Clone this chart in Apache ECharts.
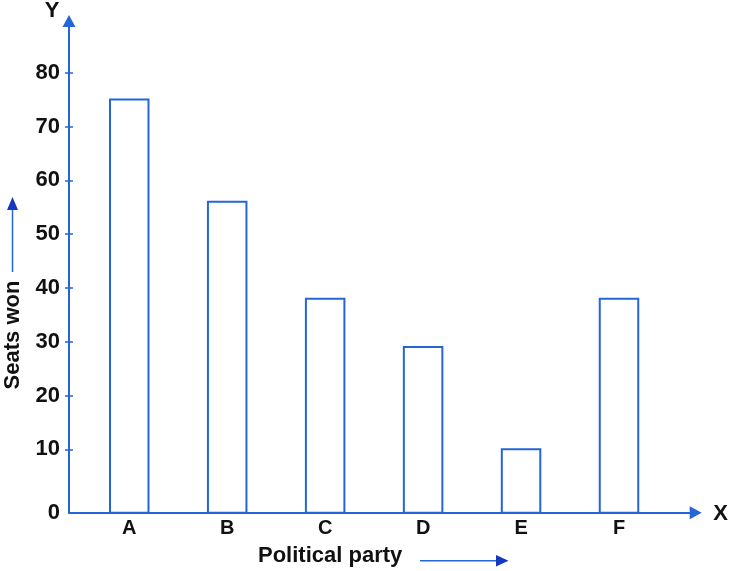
<!DOCTYPE html>
<html>
<head>
<meta charset="utf-8">
<script src="https://cdn.jsdelivr.net/npm/echarts@6/dist/echarts.min.js"></script>
<style>
html,body{margin:0;padding:0;background:#fff;}
#chart{width:732px;height:571px;}
</style>
</head>
<body>
<div id="chart"></div>
<script>
// ---- data ----
const parties = ['A', 'B', 'C', 'D', 'E', 'F'];
const seatsWon = [75, 56, 38, 29, 10, 38];
const yTickValues = [10, 20, 30, 40, 50, 60, 70, 80];
const yTickLabels = ['0', '10', '20', '30', '40', '50', '60', '70', '80'];

// ---- layout / style ----
const FONT = '"Liberation Sans", Arial, Helvetica, sans-serif';
const LINE = '#2466d6';
const ARROW = '#1538bf';
const TEXT = '#111';
const Y_MIN = -1.78;   // the drawn origin sits a little below value 0 in the original
const Y_MAX = 89.6;
const X_MIN = -0.615;
const X_MAX = 5.783;

const chart = echarts.init(document.getElementById('chart'), null, {renderer: 'canvas'});

const option = {
  backgroundColor: '#fff',
  animation: false,
  grid: {left: 69, top: 21, right: 36.3, bottom: 58.3, containLabel: false},
  xAxis: {
    type: 'value',
    min: X_MIN,
    max: X_MAX,
    splitLine: {show: false},
    axisLine: {show: true, onZero: false, lineStyle: {color: LINE, width: 2}, symbol: ['none', 'triangle'], symbolSize: [13, 12]},
    axisTick: {show: false},
    axisLabel: {
      customValues: parties.map((p, i) => i),
      formatter: v => parties[Math.round(v)],
      color: TEXT, fontFamily: FONT, fontSize: 20, fontWeight: 'bold', margin: 6
    }
  },
  yAxis: [{
    type: 'value',
    min: Y_MIN,
    max: Y_MAX,
    splitLine: {show: false},
    axisLine: {show: true, onZero: false, lineStyle: {color: LINE, width: 2}, symbol: ['none', 'triangle'], symbolSize: [13, 12]},
    axisTick: {show: true, customValues: yTickValues, length: 4, lineStyle: {color: LINE, width: 1.5}},
    axisLabel: {
      customValues: [Y_MIN].concat(yTickValues),
      formatter: v => (v < 5 ? yTickLabels[0] : yTickLabels[Math.round(v / 10)]),
      color: TEXT, fontFamily: FONT, fontSize: 22, fontWeight: 'bold', margin: 9
    }
  }, {
    type: 'value',
    min: Y_MIN,
    max: Y_MAX,
    position: 'left',
    splitLine: {show: false},
    axisLine: {show: false, onZero: false},
    axisLabel: {show: false},
    axisTick: {show: true, inside: true, customValues: yTickValues, length: 4, lineStyle: {color: LINE, width: 1.5}}
  }],
  series: [{
    type: 'custom',
    data: seatsWon.map((v, i) => [i, v]),
    renderItem: function (params, api) {
      const top = api.coord([api.value(0), api.value(1)]);
      const bottom = api.coord([api.value(0), Y_MIN]);
      const w = 38.5;
      return {
        type: 'rect',
        shape: {x: top[0] - w / 2, y: top[1], width: w, height: bottom[1] - top[1]},
        style: {fill: '#fff', stroke: LINE, lineWidth: 2}
      };
    }
  }],
  graphic: [
    {type: 'text', x: 52, y: 11, style: {text: 'Y', font: 'bold 22px ' + FONT, fill: TEXT, align: 'center', verticalAlign: 'middle'}},
    {type: 'text', x: 720.5, y: 514, style: {text: 'X', font: 'bold 22px ' + FONT, fill: TEXT, align: 'center', verticalAlign: 'middle'}},
    {type: 'text', x: 13, y: 335, rotation: Math.PI / 2, style: {text: 'Seats won', font: 'bold 22px ' + FONT, fill: TEXT, align: 'center', verticalAlign: 'middle'}},
    {type: 'line', shape: {x1: 12.5, y1: 272, x2: 12.5, y2: 208}, style: {stroke: LINE, lineWidth: 1.5}},
    {type: 'polygon', shape: {points: [[12.5, 197], [7, 210], [18, 210]]}, style: {fill: ARROW}},
    {type: 'text', x: 258, y: 556, style: {text: 'Political party', font: 'bold 22px ' + FONT, fill: TEXT, align: 'left', verticalAlign: 'middle'}},
    {type: 'line', shape: {x1: 420, y1: 560.7, x2: 498, y2: 560.7}, style: {stroke: LINE, lineWidth: 1.5}},
    {type: 'polygon', shape: {points: [[508.5, 560.7], [496, 555], [496, 566.4]]}, style: {fill: ARROW}}
  ]
};

chart.setOption(option);
</script>
</body>
</html>
